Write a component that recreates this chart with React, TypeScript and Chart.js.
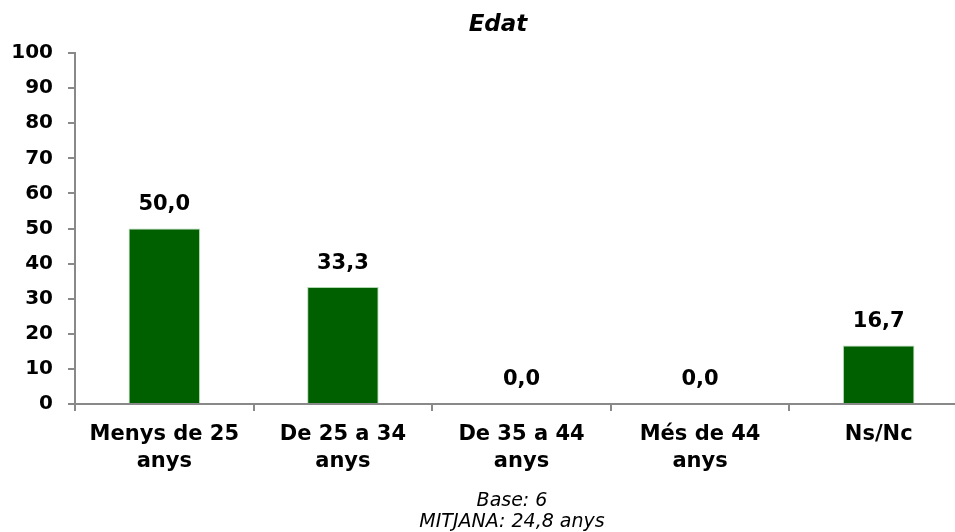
import React, { useEffect, useRef } from "react";
import { Chart, registerables } from "chart.js";

Chart.register(...registerables);

const categories: string[][] = [
  ["Menys de 25", "anys"],
  ["De 25 a 34", "anys"],
  ["De 35 a 44", "anys"],
  ["Més de 44", "anys"],
  ["Ns/Nc"],
];
const values: number[] = [50.0, 33.3, 0.0, 0.0, 16.7];
const yTicks: number[] = [0, 10, 20, 30, 40, 50, 60, 70, 80, 90, 100];
const titleText = "Edat";
const footerLines: string[] = ["Base: 6", "MITJANA: 24,8 anys"];

const FONT = '"DejaVu Sans", Verdana, sans-serif';

export default function App() {
  const ref = useRef<HTMLCanvasElement | null>(null);

  useEffect(() => {
    if (!ref.current) return;
    const labelsPlugin = {
      id: "extras",
      afterDatasetsDraw(chart: any) {
        const ctx = chart.ctx;
        const meta = chart.getDatasetMeta(0);
        ctx.save();
        ctx.fillStyle = "#000";
        ctx.font = `bold 21px ${FONT}`;
        ctx.textAlign = "center";
        ctx.textBaseline = "middle";
        meta.data.forEach((bar: any, i: number) => {
          const v = values[i];
          ctx.fillText(v.toFixed(1).replace(".", ","), bar.x, bar.y - 24);
        });
        // title
        ctx.font = `italic bold 23px ${FONT}`;
        ctx.fillText(titleText, 498, 25);
        // footer
        ctx.font = `italic 19px ${FONT}`;
        footerLines.forEach((l, i) => {
          ctx.fillText(l, 512, 501 + i * 21);
        });
        ctx.restore();
      },
    };

    const chart = new Chart(ref.current, {
      type: "bar",
      data: {
        labels: categories,
        datasets: [
          {
            data: values,
            backgroundColor: "#006000",
            borderColor: "#b0d8b0",
            borderWidth: 1,
            barPercentage: 0.4,
            categoryPercentage: 1,
          },
        ],
      },
      options: {
        animation: false,
        responsive: false,
        maintainAspectRatio: false,
        layout: { padding: { top: 53, left: 0, right: 0, bottom: 0 } },
        plugins: {
          legend: { display: false },
          tooltip: { enabled: false },
          title: { display: false },
        },
        scales: {
          x: {
            offset: true,
            grid: {
              drawOnChartArea: false,
              offset: true,
              tickLength: 7,
              color: "#898989",
              lineWidth: 2,
            },
            border: { color: "#898989", width: 2 },
            ticks: {
              color: "#000",
              font: { family: FONT, size: 21, weight: "bold", lineHeight: 1.24 },
              padding: 11,
              maxRotation: 0,
              autoSkip: false,
            },
            afterFit(scale: any) {
              scale.height = 128;
            },
          },
          y: {
            min: 0,
            max: 100,
            afterBuildTicks(scale: any) {
              scale.ticks = yTicks.map((v) => ({ value: v }));
            },
            grid: {
              drawOnChartArea: false,
              tickLength: 7,
              color: "#898989",
              lineWidth: 2,
            },
            border: { color: "#898989", width: 2 },
            ticks: {
              color: "#000",
              font: { family: FONT, size: 20, weight: "bold" },
              padding: 15,
            },
            afterFit(scale: any) {
              scale.width = 75;
            },
          },
        },
      },
      plugins: [labelsPlugin],
    });
    return () => chart.destroy();
  }, []);

  return (
    <div
      style={{
        position: "fixed",
        left: 0,
        top: 0,
        width: 955,
        height: 532,
        overflow: "hidden",
        background: "#fff",
      }}
    >
      <canvas ref={ref} width={968} height={532} style={{ width: 968, height: 532 }} />
    </div>
  );
}
